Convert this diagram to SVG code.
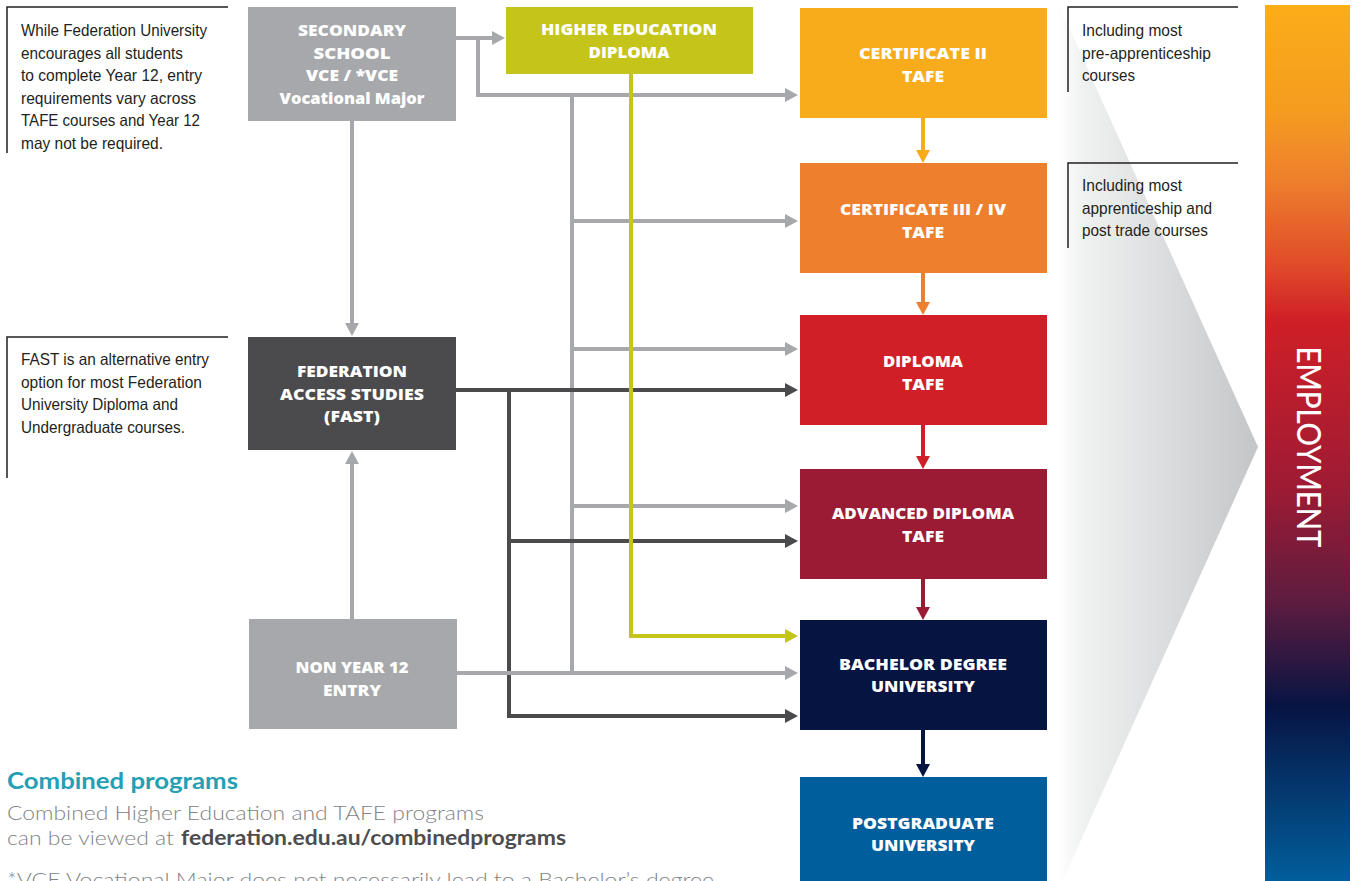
<svg xmlns="http://www.w3.org/2000/svg" width="1359" height="881" viewBox="0 0 1359 881">
<style>
.lbl{font-family:"Open Sans",Lato,"Liberation Sans",sans-serif;font-weight:800;font-size:15.5px;fill:#ffffff;text-anchor:middle}
.note{font-family:"Liberation Sans Narrow","Liberation Sans",Arial,sans-serif;font-size:16.5px;fill:#231f20}
.nline{fill:none;stroke:#231f20;stroke-width:1.5}
.cg{fill:none;stroke:#a7a8ab;stroke-width:4}
.cd{fill:none;stroke:#4b4b4d;stroke-width:4}
.cy{fill:none;stroke:#c5c41a;stroke-width:4}
.light{font-family:Lato,"Open Sans","Liberation Sans",sans-serif;font-weight:300;font-size:20px;fill:#808285}
.url{font-family:Lato,"Open Sans","Liberation Sans",sans-serif;font-weight:700;font-size:20px;fill:#4d4d4f}
</style>
<defs>
<linearGradient id="emp" x1="0" y1="0" x2="0" y2="1">
<stop offset="0" stop-color="#fbad18"/>
<stop offset="0.12" stop-color="#f59c20"/>
<stop offset="0.2" stop-color="#ee7f2c"/>
<stop offset="0.3" stop-color="#e0492a"/>
<stop offset="0.36" stop-color="#cf1f27"/>
<stop offset="0.55" stop-color="#9e1b34"/>
<stop offset="0.68" stop-color="#5e1c3f"/>
<stop offset="0.8" stop-color="#071443"/>
<stop offset="1" stop-color="#015e9c"/>
</linearGradient>
<linearGradient id="chev" gradientUnits="userSpaceOnUse" x1="1058" y1="0" x2="1258" y2="0">
<stop offset="0" stop-color="#ffffff"/>
<stop offset="0.12" stop-color="#f0f1f1"/>
<stop offset="1" stop-color="#c4c5c7"/>
</linearGradient>
<marker id="ag" markerUnits="userSpaceOnUse" markerWidth="14" markerHeight="14" refX="5" refY="7" orient="auto"><path d="M0,0 L13,7 L0,14z" fill="#a7a8ab"/></marker>
<marker id="ad" markerUnits="userSpaceOnUse" markerWidth="14" markerHeight="14" refX="5" refY="7" orient="auto"><path d="M0,0 L13,7 L0,14z" fill="#4b4b4d"/></marker>
<marker id="ay" markerUnits="userSpaceOnUse" markerWidth="14" markerHeight="14" refX="5" refY="7" orient="auto"><path d="M0,0 L13,7 L0,14z" fill="#c5c41a"/></marker>
<marker id="a1" markerUnits="userSpaceOnUse" markerWidth="14" markerHeight="14" refX="5" refY="7" orient="auto"><path d="M0,0 L13,7 L0,14z" fill="#f9ac1b"/></marker>
<marker id="a2" markerUnits="userSpaceOnUse" markerWidth="14" markerHeight="14" refX="5" refY="7" orient="auto"><path d="M0,0 L13,7 L0,14z" fill="#ee7f2d"/></marker>
<marker id="a3" markerUnits="userSpaceOnUse" markerWidth="14" markerHeight="14" refX="5" refY="7" orient="auto"><path d="M0,0 L13,7 L0,14z" fill="#d01f26"/></marker>
<marker id="a4" markerUnits="userSpaceOnUse" markerWidth="14" markerHeight="14" refX="5" refY="7" orient="auto"><path d="M0,0 L13,7 L0,14z" fill="#9b1b34"/></marker>
<marker id="a5" markerUnits="userSpaceOnUse" markerWidth="14" markerHeight="14" refX="5" refY="7" orient="auto"><path d="M0,0 L13,7 L0,14z" fill="#061442"/></marker>
</defs>
<rect width="1359" height="881" fill="#ffffff"/>

<!-- chevron background -->
<polygon points="1058,3 1258,447 1058,891" fill="url(#chev)"/>

<!-- employment bar -->
<g id="employment">
<rect x="1265" y="5" width="85" height="876" fill="url(#emp)"/>
<text transform="translate(1297,447) rotate(90)" font-family="Lato,'Open Sans','Liberation Sans',sans-serif" font-size="32" font-weight="500" fill="#ffffff" text-anchor="middle" textLength="201" lengthAdjust="spacingAndGlyphs">EMPLOYMENT</text>
</g>

<!-- notes -->
<g id="note-secondary">
<path class="nline" d="M228,7 H7 V153"/>
<text class="note" x="21" y="36" textLength="186" lengthAdjust="spacingAndGlyphs">While Federation University</text>
<text class="note" x="21" y="58.5" textLength="162" lengthAdjust="spacingAndGlyphs">encourages all students</text>
<text class="note" x="21" y="81" textLength="181" lengthAdjust="spacingAndGlyphs">to complete Year 12, entry</text>
<text class="note" x="21" y="103.5" textLength="175" lengthAdjust="spacingAndGlyphs">requirements vary across</text>
<text class="note" x="21" y="126" textLength="179" lengthAdjust="spacingAndGlyphs">TAFE courses and Year 12</text>
<text class="note" x="21" y="148.5" textLength="142" lengthAdjust="spacingAndGlyphs">may not be required.</text>
</g>
<g id="note-fast">
<path class="nline" d="M228,337 H7 V478"/>
<text class="note" x="21" y="365" textLength="188" lengthAdjust="spacingAndGlyphs">FAST is an alternative entry</text>
<text class="note" x="21" y="387.5" textLength="181" lengthAdjust="spacingAndGlyphs">option for most Federation</text>
<text class="note" x="21" y="410" textLength="157" lengthAdjust="spacingAndGlyphs">University Diploma and</text>
<text class="note" x="21" y="432.5" textLength="164" lengthAdjust="spacingAndGlyphs">Undergraduate courses.</text>
</g>
<g id="note-cert2">
<path class="nline" d="M1238,7 H1068 V92"/>
<text class="note" x="1082" y="36" textLength="100" lengthAdjust="spacingAndGlyphs">Including most</text>
<text class="note" x="1082" y="58.5" textLength="129" lengthAdjust="spacingAndGlyphs">pre-apprenticeship</text>
<text class="note" x="1082" y="81" textLength="53" lengthAdjust="spacingAndGlyphs">courses</text>
</g>
<g id="note-cert3">
<path class="nline" d="M1238,163 H1068 V248"/>
<text class="note" x="1082" y="191" textLength="100" lengthAdjust="spacingAndGlyphs">Including most</text>
<text class="note" x="1082" y="213.5" textLength="130" lengthAdjust="spacingAndGlyphs">apprenticeship and</text>
<text class="note" x="1082" y="236" textLength="126" lengthAdjust="spacingAndGlyphs">post trade courses</text>
</g>

<!-- connectors -->
<g id="connectors">
<path class="cg" d="M572,95 V673"/>
<path class="cg" d="M456,38 H497" marker-end="url(#ag)"/>
<path class="cg" d="M478,38 V95 H790" marker-end="url(#ag)"/>
<path class="cg" d="M572,221 H790" marker-end="url(#ag)"/>
<path class="cg" d="M572,349 H790" marker-end="url(#ag)"/>
<path class="cg" d="M572,506 H790" marker-end="url(#ag)"/>
<path class="cg" d="M352,121 V328" marker-end="url(#ag)"/>
<path class="cg" d="M352,619 V459" marker-end="url(#ag)"/>
<path class="cd" d="M456,390 H790" marker-end="url(#ad)"/>
<path class="cd" d="M509,390 V716 H790" marker-end="url(#ad)"/>
<path class="cd" d="M509,541 H790" marker-end="url(#ad)"/>
<path class="cg" d="M457,673 H790" marker-end="url(#ag)"/>
<path class="cy" d="M631,74 V636 H790" marker-end="url(#ay)"/>
<path d="M923,118 V155" stroke="#f9ac1b" stroke-width="4" fill="none" marker-end="url(#a1)"/>
<path d="M923,273 V307" stroke="#ee7f2d" stroke-width="4" fill="none" marker-end="url(#a2)"/>
<path d="M923,425 V461" stroke="#d01f26" stroke-width="4" fill="none" marker-end="url(#a3)"/>
<path d="M923,579 V612" stroke="#9b1b34" stroke-width="4" fill="none" marker-end="url(#a4)"/>
<path d="M923,730 V769" stroke="#061442" stroke-width="4" fill="none" marker-end="url(#a5)"/>
</g>

<!-- nodes -->
<g id="secondary">
<rect x="248" y="7" width="208" height="114" fill="#a7a8ab"/>
<text class="lbl" x="352" y="36" textLength="108" lengthAdjust="spacingAndGlyphs">SECONDARY</text>
<text class="lbl" x="352" y="58.5" textLength="77" lengthAdjust="spacingAndGlyphs">SCHOOL</text>
<text class="lbl" x="352" y="81" textLength="92" lengthAdjust="spacingAndGlyphs">VCE / *VCE</text>
<text class="lbl" x="352" y="103.5" textLength="145" lengthAdjust="spacingAndGlyphs">Vocational Major</text>
</g>
<g id="higher-ed">
<rect x="506" y="7" width="247" height="67" fill="#c5c41a"/>
<text class="lbl" x="629" y="35" textLength="176" lengthAdjust="spacingAndGlyphs">HIGHER EDUCATION</text>
<text class="lbl" x="629" y="57.5" textLength="81" lengthAdjust="spacingAndGlyphs">DIPLOMA</text>
</g>
<g id="fast">
<rect x="248" y="337" width="208" height="113" fill="#4b4b4d"/>
<text class="lbl" x="352" y="377" textLength="110" lengthAdjust="spacingAndGlyphs">FEDERATION</text>
<text class="lbl" x="352" y="399.5" textLength="144" lengthAdjust="spacingAndGlyphs">ACCESS STUDIES</text>
<text class="lbl" x="352" y="422" textLength="56" lengthAdjust="spacingAndGlyphs">(FAST)</text>
</g>
<g id="non-year12">
<rect x="249" y="619" width="208" height="110" fill="#a7a8ab"/>
<text class="lbl" x="352" y="673" textLength="113" lengthAdjust="spacingAndGlyphs">NON YEAR 12</text>
<text class="lbl" x="352" y="695.5" textLength="58" lengthAdjust="spacingAndGlyphs">ENTRY</text>
</g>
<g id="cert2">
<rect x="800" y="8" width="247" height="110" fill="#f9ac1b"/>
<text class="lbl" x="923" y="59" textLength="128" lengthAdjust="spacingAndGlyphs">CERTIFICATE II</text>
<text class="lbl" x="923" y="81.5" textLength="42" lengthAdjust="spacingAndGlyphs">TAFE</text>
</g>
<g id="cert34">
<rect x="800" y="163" width="247" height="110" fill="#ee7f2d"/>
<text class="lbl" x="923" y="215" textLength="166" lengthAdjust="spacingAndGlyphs">CERTIFICATE III / IV</text>
<text class="lbl" x="923" y="237.5" textLength="42" lengthAdjust="spacingAndGlyphs">TAFE</text>
</g>
<g id="diploma">
<rect x="800" y="315" width="247" height="110" fill="#d01f26"/>
<text class="lbl" x="923" y="367" textLength="80" lengthAdjust="spacingAndGlyphs">DIPLOMA</text>
<text class="lbl" x="923" y="389.5" textLength="42" lengthAdjust="spacingAndGlyphs">TAFE</text>
</g>
<g id="adv-diploma">
<rect x="800" y="469" width="247" height="110" fill="#9b1b34"/>
<text class="lbl" x="923" y="519" textLength="182" lengthAdjust="spacingAndGlyphs">ADVANCED DIPLOMA</text>
<text class="lbl" x="923" y="541.5" textLength="42" lengthAdjust="spacingAndGlyphs">TAFE</text>
</g>
<g id="bachelor">
<rect x="800" y="620" width="247" height="110" fill="#061442"/>
<text class="lbl" x="923" y="669.5" textLength="168" lengthAdjust="spacingAndGlyphs">BACHELOR DEGREE</text>
<text class="lbl" x="923" y="692" textLength="104" lengthAdjust="spacingAndGlyphs">UNIVERSITY</text>
</g>
<g id="postgrad">
<rect x="800" y="777" width="247" height="110" fill="#015e9c"/>
<text class="lbl" x="923" y="828.5" textLength="142" lengthAdjust="spacingAndGlyphs">POSTGRADUATE</text>
<text class="lbl" x="923" y="851" textLength="104" lengthAdjust="spacingAndGlyphs">UNIVERSITY</text>
</g>

<!-- footer text -->
<g id="combined">
<text x="7" y="789" font-family="Lato,'Open Sans','Liberation Sans',sans-serif" font-weight="700" font-size="22" fill="#249fb4" textLength="231" lengthAdjust="spacingAndGlyphs">Combined programs</text>
<text class="light" x="7" y="820" textLength="477" lengthAdjust="spacingAndGlyphs">Combined Higher Education and TAFE programs</text>
<text class="light" x="7" y="845" textLength="167" lengthAdjust="spacingAndGlyphs">can be viewed at</text>
<text class="url" x="181" y="845" textLength="385" lengthAdjust="spacingAndGlyphs">federation.edu.au/combinedprograms</text>
<text class="light" x="7" y="887" textLength="707" lengthAdjust="spacingAndGlyphs">*VCE Vocational Major does not necessarily lead to a Bachelor’s degree</text>
</g>
</svg>
